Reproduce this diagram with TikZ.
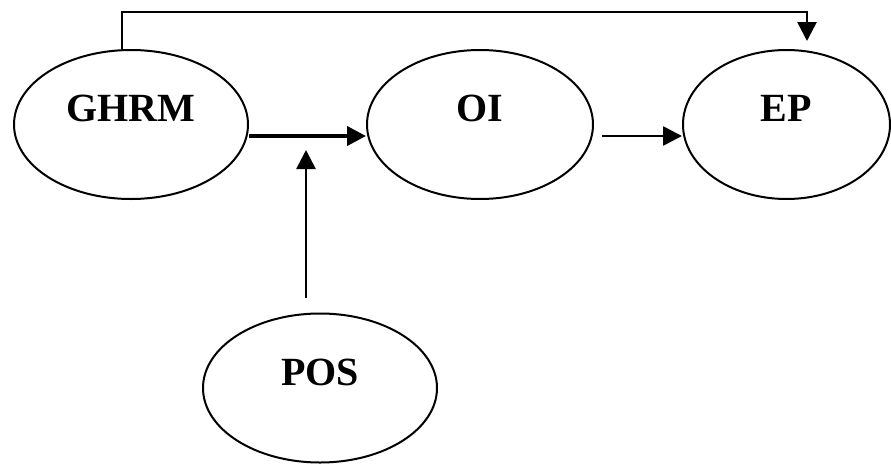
\documentclass[tikz,border=0pt]{standalone}
\usepackage{fontspec}
\setmainfont{Liberation Serif}
\usetikzlibrary{shapes.geometric, arrows.meta}

\begin{document}
\begin{tikzpicture}[x=1pt, y=-1pt,
            oval/.style={ellipse, draw=black, line width=2pt, inner sep=0pt,
              minimum height=149pt, text height=27pt, text depth=33pt,
              font=\fontsize{40}{44}\selectfont\bfseries},
            link/.style={black, line width=2.7pt, -{Triangle[length=19pt, width=19pt]}},
            boldlink/.style={link, line width=4pt}]
            \useasboundingbox (0,0) rectangle (891,463);
            \node [oval, minimum width=234pt] (ghrm) at (131,124.5) {GHRM};
            \node [oval, minimum width=226pt] (oi) at (480,124.5) {OI};
            \node [oval, minimum width=207pt] (ep) at (786.5,124.5) {EP};
            \node [oval, minimum width=234pt] (pos) at (320,388) {POS};
            \coordinate (meet) at (306,150);
            \draw [boldlink] ([yshift=-11.5pt]ghrm.east) -- ([yshift=-11.5pt]oi.west);
            \draw [link] ([xshift=8pt, yshift=-11.5pt]oi.east) -- ([yshift=-11.5pt]ep.west);
            \draw [link] ([xshift=-14pt, yshift=15pt]pos.north) -- (meet);
            \draw [link] ([xshift=-9pt]ghrm.north) -- ++(0,-37) -| ([xshift=20.5pt, yshift=8pt]ep.north);
\end{tikzpicture}
\end{document}
